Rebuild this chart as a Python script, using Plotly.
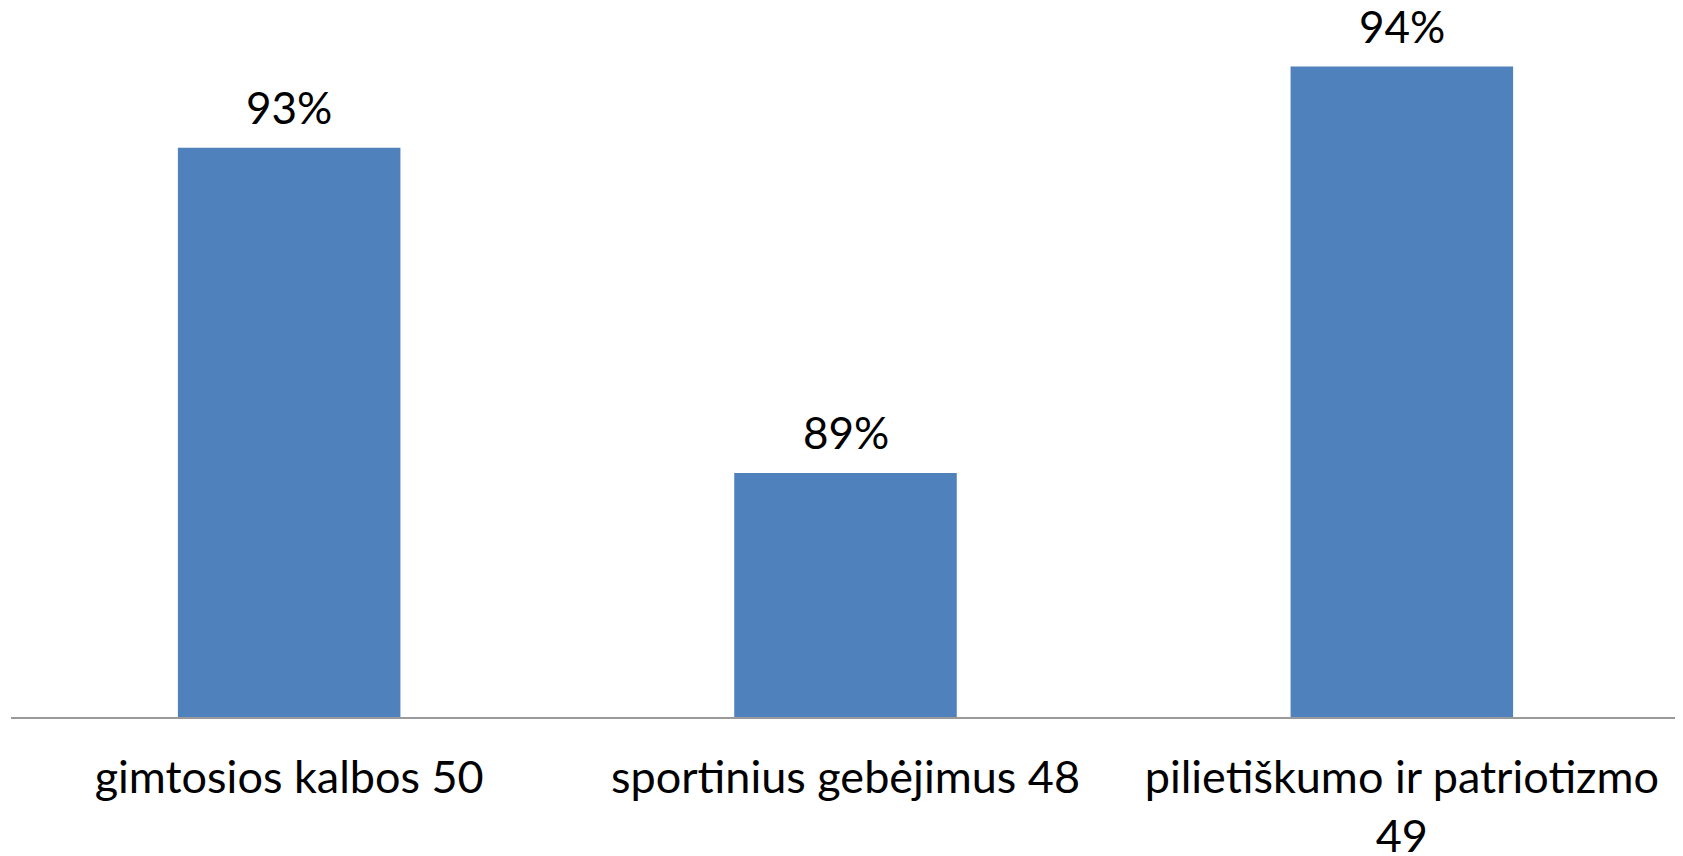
import plotly.graph_objects as go

categories = ["gimtosios kalbos 50", "sportinius gebėjimus 48", "pilietiškumo ir patriotizmo<br>49"]
values = [93, 89, 94]
labels = ["93%", "89%", "94%"]

FONT = "Lato"
BAR_COLOR = "#4F81BD"

fig = go.Figure()
fig.add_trace(go.Bar(
    x=categories, y=values,
    marker=dict(color=BAR_COLOR, line=dict(width=0)),
    width=0.4,
    hoverinfo="skip",
))

for c, v, t in zip(categories, values, labels):
    fig.add_annotation(x=c, y=v, text=t, showarrow=False, yanchor="bottom",
                       yshift=13, font=dict(family=FONT, size=44, color="#000000"))

fig.update_layout(
    width=1675, height=848,
    margin=dict(l=3, r=3, t=0, b=139, autoexpand=False),
    paper_bgcolor="white", plot_bgcolor="white",
    showlegend=False,
    font=dict(family=FONT, size=45, color="#000000"),
)
fig.update_xaxes(
    showline=True, linecolor="#9a9a9a", linewidth=2,
    ticks="", showgrid=False, zeroline=False, automargin=False,
    tickfont=dict(family=FONT, size=45, color="#000000"),
    ticklabelstandoff=20,
)
fig.update_yaxes(
    range=[86, 94.72], visible=False, showgrid=False, zeroline=False,
    automargin=False,
)

fig.write_html("out.html")
